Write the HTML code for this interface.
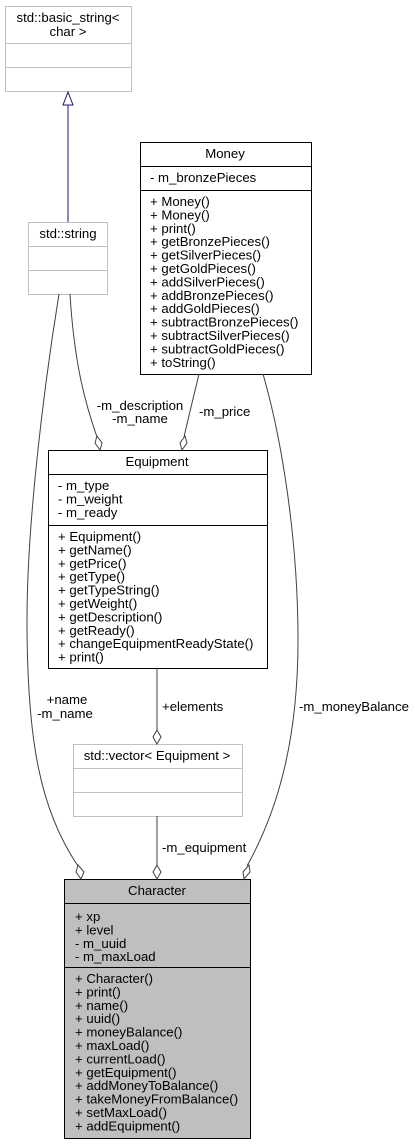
<!DOCTYPE html>
<html><head><style>html,body{margin:0;padding:0;background:#fff}svg{display:block}text{font-family:"Liberation Sans",Arial,sans-serif;font-size:13.2px;fill:#000}</style></head>
<body>
<svg width="415" height="1144" viewBox="0 0 415 1144" xmlns="http://www.w3.org/2000/svg">
<!-- basic_string -->
<rect x="5.5" y="6.5" width="126" height="85" fill="#fff" stroke="#bfbfbf"/>
<line x1="5" y1="43.5" x2="131" y2="43.5" stroke="#bfbfbf"/>
<line x1="5" y1="67.5" x2="131" y2="67.5" stroke="#bfbfbf"/>
<text x="68" y="22" text-anchor="middle">std::basic_string&lt;</text>
<text x="68" y="36" text-anchor="middle">char &gt;</text>
<!-- inheritance -->
<line x1="68" y1="105" x2="68" y2="222" stroke="#191970" stroke-width="1"/>
<polygon points="68,92 63,105 73,105" fill="#fff" stroke="#191970"/>
<!-- std::string -->
<rect x="28.5" y="222.5" width="79" height="72" fill="#fff" stroke="#bfbfbf"/>
<line x1="28" y1="246.5" x2="107" y2="246.5" stroke="#bfbfbf"/>
<line x1="28" y1="270.5" x2="107" y2="270.5" stroke="#bfbfbf"/>
<text x="68" y="238" text-anchor="middle">std::string</text>
<!-- Money -->
<rect x="140.5" y="142.5" width="171" height="232" fill="#fff" stroke="#000"/>
<line x1="140" y1="166.5" x2="311" y2="166.5" stroke="#000"/>
<line x1="140" y1="190.5" x2="311" y2="190.5" stroke="#000"/>
<text x="225" y="158" text-anchor="middle">Money</text>
<text x="150" y="182">- m_bronzePieces</text>
<g>
<text x="150" y="206">+ Money()</text>
<text x="150" y="219.4">+ Money()</text>
<text x="150" y="232.8">+ print()</text>
<text x="150" y="246.2">+ getBronzePieces()</text>
<text x="150" y="259.6">+ getSilverPieces()</text>
<text x="150" y="273">+ getGoldPieces()</text>
<text x="150" y="286.4">+ addSilverPieces()</text>
<text x="150" y="299.8">+ addBronzePieces()</text>
<text x="150" y="313.2">+ addGoldPieces()</text>
<text x="150" y="326.6">+ subtractBronzePieces()</text>
<text x="150" y="340">+ subtractSilverPieces()</text>
<text x="150" y="353.4">+ subtractGoldPieces()</text>
<text x="150" y="366.8">+ toString()</text>
</g>
<!-- Equipment -->
<rect x="48.5" y="450.5" width="219" height="218" fill="#fff" stroke="#000"/>
<line x1="48" y1="474.5" x2="267" y2="474.5" stroke="#000"/>
<line x1="48" y1="525.5" x2="267" y2="525.5" stroke="#000"/>
<text x="157" y="466" text-anchor="middle">Equipment</text>
<text x="58" y="490">- m_type</text>
<text x="58" y="503.6">- m_weight</text>
<text x="58" y="517">- m_ready</text>
<text x="58" y="541">+ Equipment()</text>
<text x="58" y="554.4">+ getName()</text>
<text x="58" y="567.8">+ getPrice()</text>
<text x="58" y="581.2">+ getType()</text>
<text x="58" y="594.6">+ getTypeString()</text>
<text x="58" y="608">+ getWeight()</text>
<text x="58" y="621.4">+ getDescription()</text>
<text x="58" y="634.8">+ getReady()</text>
<text x="58" y="648.2">+ changeEquipmentReadyState()</text>
<text x="58" y="661.6">+ print()</text>
<!-- vector -->
<rect x="73.5" y="744.5" width="169" height="72" fill="#fff" stroke="#bfbfbf"/>
<line x1="73" y1="768.5" x2="242" y2="768.5" stroke="#bfbfbf"/>
<line x1="73" y1="792.5" x2="242" y2="792.5" stroke="#bfbfbf"/>
<text x="157" y="760" text-anchor="middle">std::vector&lt; Equipment &gt;</text>
<!-- Character -->
<rect x="64.5" y="879.5" width="186" height="259" fill="#bfbfbf" stroke="#000"/>
<line x1="64" y1="903.5" x2="250" y2="903.5" stroke="#000"/>
<line x1="64" y1="967.5" x2="250" y2="967.5" stroke="#000"/>
<text x="157" y="895" text-anchor="middle">Character</text>
<text x="75" y="921">+ xp</text>
<text x="75" y="934.4">+ level</text>
<text x="75" y="947.8">- m_uuid</text>
<text x="75" y="961.2">- m_maxLoad</text>
<g>
<text x="75" y="983">+ Character()</text>
<text x="75" y="996.4">+ print()</text>
<text x="75" y="1009.8">+ name()</text>
<text x="75" y="1023.2">+ uuid()</text>
<text x="75" y="1036.6">+ moneyBalance()</text>
<text x="75" y="1050">+ maxLoad()</text>
<text x="75" y="1063.4">+ currentLoad()</text>
<text x="75" y="1076.8">+ getEquipment()</text>
<text x="75" y="1090.2">+ addMoneyToBalance()</text>
<text x="75" y="1103.6">+ takeMoneyFromBalance()</text>
<text x="75" y="1117">+ setMaxLoad()</text>
<text x="75" y="1130.4">+ addEquipment()</text>
</g>
<!-- edges -->
<g fill="none" stroke="#404040" stroke-width="1">
<path d="M59,294 C45,380 27,520 27,620 C27,740 40,810 78,866"/>
<path d="M70,294 C74,360 84,400 97,437"/>
<path d="M199,374 C194,395 189,415 184,437"/>
<path d="M263,374 C282,440 298,540 298,640 C298,740 278,810 247,866"/>
<path d="M157,668 L157,730"/>
<path d="M157,816 L157,865"/>
</g>
<g fill="#fff" stroke="#404040">
<polygon points="81,879 76,872 78,865 84,872"/>
<polygon points="100,450 95,443 97,436 102,443"/>
<polygon points="182,450 180,443 185,436 187,443"/>
<polygon points="244,879 243,872 249,865 250,872"/>
<polygon points="157,744 153,737 157,730 161,737"/>
<polygon points="157,879 153,872 157,865 161,872"/>
</g>
<text x="140" y="410" text-anchor="middle">-m_description</text>
<text x="140" y="423" text-anchor="middle">-m_name</text>
<text x="199" y="416">-m_price</text>
<text x="67" y="704" text-anchor="middle">+name</text>
<text x="65" y="718" text-anchor="middle">-m_name</text>
<text x="162" y="711">+elements</text>
<text x="299" y="711">-m_moneyBalance</text>
<text x="162" y="852">-m_equipment</text>
</svg>
</body></html>
